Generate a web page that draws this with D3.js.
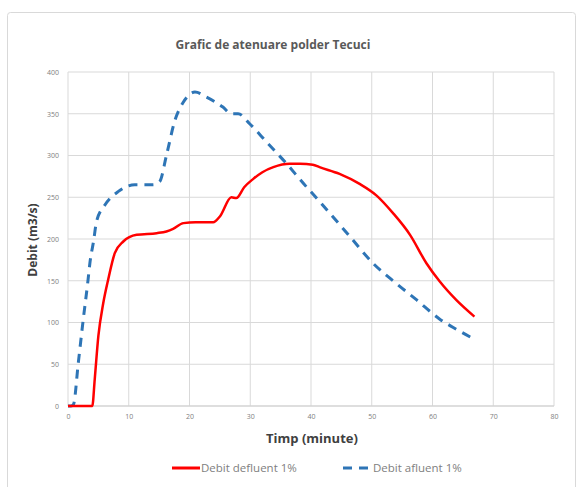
<!DOCTYPE html>
<html><head><meta charset="utf-8">
<script src="https://cdn.jsdelivr.net/npm/d3@7"></script>
<style>body{margin:0;background:#fff;}svg{display:block;}</style>
</head><body>
<svg id="c" width="582" height="487"></svg>
<script>
const titleText = "Grafic de atenuare polder Tecuci";
const xTitle = "Timp (minute)";
const yTitle = "Debit (m3/s)";
const seriesNames = ["Debit defluent 1%", "Debit afluent 1%"];
const xTicks = [0,10,20,30,40,50,60,70,80];
const yTicks = [0,50,100,150,200,250,300,350,400];

const timeDefluent = [0,1,2,3,4.0,4.4,5.0,5.8,6.6,7.7,9.1,11.3,14.6,16.2,17.3,19,21,23.9,25,26.9,27.7,29,30.5,32,33.8,36.5,38.2,40.3,41.4,44.7,48,50.8,53.5,56.3,59,61.2,63.9,66.9];
const valDefluent  = [0,0,0,0,0,32,84,123,151,183,197,205,207,209,212,219,220,220,227,250,249,262,272,280,286,290,290,289,286,278,266,252,231,205,171,149,127,107];

const timeAfluent = [0,0.5,0.9,1.7,2.5,3.3,3.6,4.2,4.7,6.1,8.3,11,14,15.1,16.2,17.6,19,20.9,22.8,25.5,26.9,28,29.9,32.7,36,38.7,41.4,46.4,50.2,54,57.4,61.2,63.9,66.9];
const valAfluent  = [0,0,2,52,103,151,171,197,221,241,257,265,265,269,300,342,364,376,370,358,350,350,338,316,290,267,245,203,171,147,127,104,92,80];

const svg = d3.select("#c");
svg.append("rect").attr("x",7.5).attr("y",12.5).attr("width",568).attr("height",480)
  .attr("rx",3).attr("fill","#fff").attr("stroke","#d9d9d9");

const m = {l:68, r:554, t:72, b:406};
const x = d3.scaleLinear().domain([0,80]).range([m.l,m.r]);
const y = d3.scaleLinear().domain([0,400]).range([m.b,m.t]);

const g = svg.append("g");
g.selectAll(".gx").data(xTicks).join("line")
  .attr("x1",d=>x(d)).attr("x2",d=>x(d)).attr("y1",m.t).attr("y2",m.b)
  .attr("stroke","#d9d9d9").attr("stroke-width",1);
g.selectAll(".gy").data(yTicks).join("line")
  .attr("x1",m.l).attr("x2",m.r).attr("y1",d=>y(d)).attr("y2",d=>y(d))
  .attr("stroke","#d9d9d9").attr("stroke-width",1);

const xa = svg.append("g").attr("transform",`translate(0,${m.b})`)
  .call(d3.axisBottom(x).tickValues(xTicks).tickSize(0).tickPadding(8));
const ya = svg.append("g").attr("transform",`translate(${m.l},0)`)
  .call(d3.axisLeft(y).tickValues(yTicks).tickSize(0).tickPadding(9));
[xa,ya].forEach(a=>{
  a.select(".domain").remove();
  a.selectAll("text").attr("fill","#808080").attr("font-family","Open Sans, sans-serif").attr("font-size",7);
});
svg.append("line").attr("x1",m.l).attr("x2",m.r).attr("y1",m.b).attr("y2",m.b).attr("stroke","#d0d0d0");

const line = (xs,ys)=>d3.line().x((d,i)=>x(xs[i])).y(d=>y(d)).curve(d3.curveMonotoneX)(ys);

svg.append("path").attr("d",line(timeAfluent,valAfluent)).attr("fill","none")
  .attr("stroke","#2e75b6").attr("stroke-width",3).attr("stroke-dasharray","9,7");
svg.append("path").attr("d",line(timeDefluent,valDefluent)).attr("fill","none")
  .attr("stroke","#ff0000").attr("stroke-width",2.5);

svg.append("text").attr("x",273).attr("y",49).attr("text-anchor","middle")
  .attr("font-family","Open Sans, sans-serif").attr("font-size",12).attr("font-weight","bold")
  .attr("fill","#595959").text(titleText);
svg.append("text").attr("x",312).attr("y",443).attr("text-anchor","middle")
  .attr("font-family","Open Sans, sans-serif").attr("font-size",13).attr("font-weight","bold")
  .attr("fill","#404040").text(xTitle);
svg.append("text").attr("transform","translate(37,240) rotate(-90)").attr("text-anchor","middle")
  .attr("font-family","Open Sans, sans-serif").attr("font-size",12).attr("font-weight","bold")
  .attr("fill","#404040").text(yTitle);

const lg = svg.append("g");
lg.append("line").attr("x1",172).attr("x2",200).attr("y1",468).attr("y2",468)
  .attr("stroke","#ff0000").attr("stroke-width",3);
lg.append("text").attr("x",201).attr("y",472).attr("font-family","Open Sans, sans-serif")
  .attr("font-size",11.5).attr("fill","#808080").text(seriesNames[0]);
lg.append("line").attr("x1",343).attr("x2",372).attr("y1",468).attr("y2",468)
  .attr("stroke","#2e75b6").attr("stroke-width",3).attr("stroke-dasharray","9,7");
lg.append("text").attr("x",373).attr("y",472).attr("font-family","Open Sans, sans-serif")
  .attr("font-size",11.5).attr("fill","#808080").text(seriesNames[1]);
</script>
</body></html>
